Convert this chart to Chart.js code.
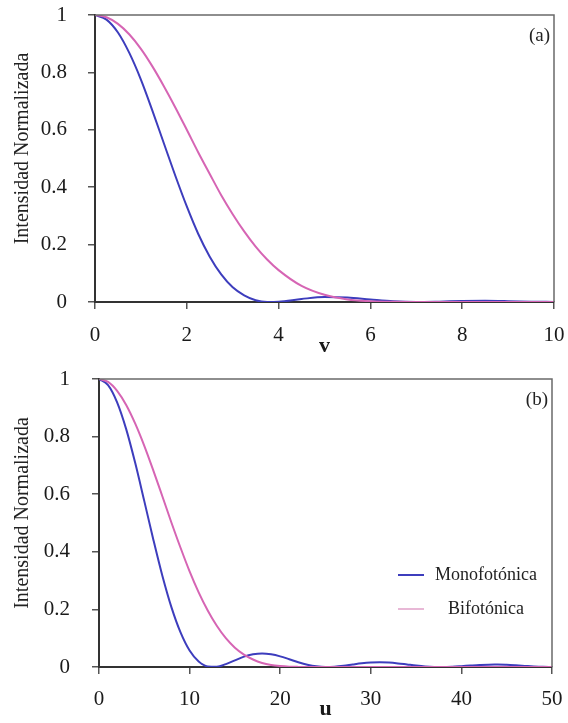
<!DOCTYPE html>
<html>
<head>
<meta charset="utf-8">
<script src="https://cdn.jsdelivr.net/npm/chart.js@4.4.0/dist/chart.umd.min.js"></script>
<style>
    body { margin: 0; background: #fff; }
    #wrap { position: relative; width: 568px; height: 723px; }
    canvas { position: absolute; left: 0; }
</style>
</head>
<body>
<div id="wrap">
    <canvas id="chartA" width="568" height="362" style="top:0"></canvas>
    <canvas id="chartB" width="568" height="361" style="top:362px"></canvas>
</div>
<script>
"use strict"

// panel (a), lateral coordinate v
let vValues = [0, 0.25, 0.5, 0.75, 1, 1.25, 1.5, 1.75, 2, 2.25, 2.5, 2.75, 3, 3.25, 3.5, 3.75, 4,
    4.5, 5, 5.5, 6, 6.5, 7, 7.5, 8, 8.5, 9, 9.5, 10]
let monoA = [1, 0.984, 0.939, 0.867, 0.775, 0.667, 0.553, 0.44, 0.333, 0.237, 0.158, 0.096, 0.051, 0.023, 0.006, 0.0003, 0.001,
    0.0105, 0.0172, 0.0154, 0.0085, 0.0022, 0, 0.0013, 0.0034, 0.0041, 0.003, 0.0012, 0.0001]
let biA = [1, 0.992, 0.969, 0.932, 0.882, 0.821, 0.752, 0.678, 0.6, 0.521, 0.446, 0.372, 0.306, 0.246, 0.193, 0.148, 0.111,
    0.056, 0.025, 0.009, 0.0026, 0.0005, 0, 0, 0, 0, 0, 0, 0]

// panel (b), axial coordinate u
let uValues = [0, 1, 2, 3, 4, 5, 6, 7, 8, 9, 10, 11, 12, 13, 14, 15, 16, 17, 18, 19, 20, 21, 22, 23, 24, 25,
    26, 27, 28, 29, 30, 31, 32, 33, 34, 35, 36, 37, 38, 39, 40, 41, 42, 43, 44, 45, 46, 47, 48, 49, 50]
let monoB = [1, 0.979, 0.919, 0.826, 0.708, 0.576, 0.442, 0.316, 0.207, 0.12, 0.057, 0.019, 0.002, 0.001, 0.01, 0.023,
    0.036, 0.044, 0.047, 0.044, 0.037, 0.027, 0.0165, 0.0078, 0.0022, 0, 0.0011, 0.0044, 0.0088, 0.0129, 0.0156, 0.0165,
    0.0153, 0.0125, 0.0088, 0.0051, 0.0021, 0.0004, 0.0001, 0.0011, 0.003, 0.0051, 0.007, 0.0082, 0.0083, 0.0074,
    0.0058, 0.0039, 0.002, 0.0006, 0]
let biB = [1, 0.99, 0.959, 0.91, 0.845, 0.768, 0.682, 0.592, 0.501, 0.414, 0.332, 0.259, 0.196, 0.143, 0.1, 0.067,
    0.043, 0.026, 0.014, 0.007, 0.0033, 0.0012, 0.0004, 0.0001, 0, 0, 0, 0, 0, 0, 0, 0, 0, 0, 0, 0, 0, 0, 0, 0, 0,
    0, 0, 0, 0, 0, 0, 0, 0, 0, 0]

let seriesNames = ["Monofotónica", "Bifotónica"]
let seriesColors = ["#3d3dbd", "#d665b4"]
let legendColors = ["#3d3dbd", "#e8b8d6"]

const SERIF = "'Liberation Serif', 'Times New Roman', serif"

function toPoints(xs, ys) {
    let pts = []
    for (let i = 0; i < xs.length; i++) {
        pts.push({ x: xs[i], y: ys[i] })
    }
    return pts
}

// top/right frame, panel tag, rotated y title and (optionally) the legend
const framePlugin = {
    id: "frame",
    afterDraw(chart, args, opts) {
        const ctx = chart.ctx
        const area = chart.chartArea
        ctx.save()
        ctx.strokeStyle = "#6a6a6a"
        ctx.lineWidth = 1.5
        ctx.beginPath()
        ctx.moveTo(area.left, area.top)
        ctx.lineTo(area.right, area.top)
        ctx.lineTo(area.right, area.bottom)
        ctx.stroke()

        ctx.fillStyle = "#222"
        ctx.font = "19px " + SERIF
        ctx.textAlign = "right"
        ctx.textBaseline = "middle"
        ctx.fillText(opts.tag, area.right - 4, area.top + 21)

        if (opts.legend) {
            ctx.font = "18px " + SERIF
            ctx.textAlign = "center"
            for (let i = 0; i < seriesNames.length; i++) {
                let y = opts.legend.y + i * opts.legend.gap
                ctx.strokeStyle = legendColors[i]
                ctx.lineWidth = 2
                ctx.beginPath()
                ctx.moveTo(opts.legend.x, y)
                ctx.lineTo(opts.legend.x + 26, y)
                ctx.stroke()
                ctx.fillText(seriesNames[i], opts.legend.textX, y)
            }
        }

        ctx.translate(23, (area.top + area.bottom) / 2 - 10)
        ctx.rotate(-Math.PI / 2)
        ctx.textAlign = "center"
        ctx.font = "20px " + SERIF
        ctx.fillText("Intensidad Normalizada", 0, 0)
        ctx.restore()
    }
}

function drawPanel(id, xs, mono, bi, cfg) {
    let ctx = document.getElementById(id).getContext("2d")
    return new Chart(ctx, {
        type: "line",
        data: {
            datasets: [{
                label: seriesNames[1],
                data: toPoints(xs, bi),
                borderColor: seriesColors[1],
                borderWidth: 2,
                pointRadius: 0,
                cubicInterpolationMode: "monotone",
                fill: false
            }, {
                label: seriesNames[0],
                data: toPoints(xs, mono),
                borderColor: seriesColors[0],
                borderWidth: 2,
                pointRadius: 0,
                cubicInterpolationMode: "monotone",
                fill: false
            }]
        },
        options: {
            responsive: false,
            animation: false,
            devicePixelRatio: 1,
            layout: { padding: { top: cfg.padTop, right: cfg.padRight, left: 0, bottom: 0 } },
            plugins: {
                legend: { display: false },
                tooltip: { enabled: false },
                frame: { tag: cfg.tag, legend: cfg.legend }
            },
            scales: {
                x: {
                    type: "linear",
                    min: 0,
                    max: cfg.xMax,
                    afterFit: function (scale) {
                        scale.height = cfg.xHeight
                        scale.paddingLeft = 0
                        scale.paddingRight = 0
                    },
                    ticks: {
                        stepSize: cfg.xStep,
                        padding: cfg.xPad,
                        color: "#1a1a1a",
                        font: { family: SERIF, size: 21 }
                    },
                    grid: { drawOnChartArea: false, drawTicks: true, tickLength: 7, color: "#555", lineWidth: 1.5 },
                    border: { display: true, color: "#333", width: 2 },
                    title: {
                        display: true,
                        text: cfg.xTitle,
                        color: "#1a1a1a",
                        padding: { top: 0, bottom: cfg.titlePad },
                        font: { family: SERIF, size: 22, weight: "bold" }
                    }
                },
                y: {
                    min: 0,
                    max: 1,
                    afterFit: function (scale) {
                        scale.width = cfg.yWidth
                        // keep the label padding from pushing the plot down
                        scale.paddingTop = 0
                        scale.paddingBottom = 0
                    },
                    ticks: {
                        stepSize: 0.2,
                        padding: cfg.yPad,
                        color: "#1a1a1a",
                        font: { family: SERIF, size: 21 },
                        callback: function (value) { return String(Number(value.toFixed(1))) }
                    },
                    grid: { drawOnChartArea: false, drawTicks: true, tickLength: 7, color: "#555", lineWidth: 1.5 },
                    border: { display: true, color: "#333", width: 2 }
                }
            }
        },
        plugins: [framePlugin]
    })
}

drawPanel("chartA", vValues, monoA, biA, {
    tag: "(a)", xTitle: "v", xMax: 10, xStep: 2,
    padTop: 15, padRight: 14, xHeight: 60, yWidth: 95,
    xPad: 14, yPad: 21, titlePad: 2
})

drawPanel("chartB", uValues, monoB, biB, {
    tag: "(b)", xTitle: "u", xMax: 50, xStep: 10,
    padTop: 17, padRight: 16, xHeight: 56, yWidth: 99,
    xPad: 13, yPad: 22, titlePad: 0,
    legend: { x: 398, y: 213, gap: 34, textX: 486 }
})
</script>
</body>
</html>
